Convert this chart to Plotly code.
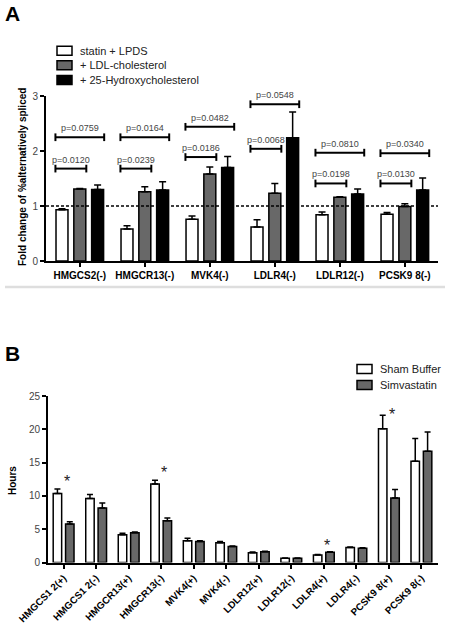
import plotly.graph_objects as go

# ---------------- Panel A data ----------------
genes_A = ["HMGCS2(-)", "HMGCR13(-)", "MVK4(-)", "LDLR4(-)", "LDLR12(-)", "PCSK9 8(-)"]
series_A_names = ["statin + LPDS", "+ LDL-cholesterol", "+ 25-Hydroxycholesterol"]
statin_lpds = [0.93, 0.58, 0.76, 0.62, 0.84, 0.85]
statin_lpds_err = [0.02, 0.06, 0.06, 0.13, 0.05, 0.03]
ldl_chol = [1.31, 1.26, 1.58, 1.23, 1.16, 0.99]
ldl_chol_err = [0.01, 0.09, 0.13, 0.18, 0.01, 0.05]
hydroxy = [1.30, 1.29, 1.70, 2.24, 1.22, 1.29]
hydroxy_err = [0.08, 0.15, 0.20, 0.47, 0.09, 0.22]
p_lower = ["p=0.0120", "p=0.0239", "p=0.0186", "p=0.0068", "p=0.0198", "p=0.0130"]
p_lower_y = [1.68, 1.68, 1.89, 2.04, 1.41, 1.41]
p_upper = ["p=0.0759", "p=0.0164", "p=0.0482", "p=0.0548", "p=0.0810", "p=0.0340"]
p_upper_y = [2.25, 2.25, 2.44, 2.85, 1.97, 1.96]
ticks_A = [0, 1, 2, 3]

# ---------------- Panel B data ----------------
exons_B = ["HMGCS1 2(+)", "HMGCS1 2(-)", "HMGCR13(+)", "HMGCR13(-)", "MVK4(+)", "MVK4(-)",
           "LDLR12(+)", "LDLR12(-)", "LDLR4(+)", "LDLR4(-)", "PCSK9 8(+)", "PCSK9 8(-)"]
series_B_names = ["Sham Buffer", "Simvastatin"]
sham = [10.35, 9.6, 4.15, 11.8, 3.25, 2.95, 1.48, 0.63, 1.13, 2.24, 20.1, 15.2]
sham_err = [0.7, 0.6, 0.25, 0.55, 0.4, 0.2, 0.08, 0.05, 0.08, 0.1, 2.0, 3.4]
simva = [5.77, 8.2, 4.45, 6.27, 3.15, 2.39, 1.63, 0.65, 1.54, 2.14, 9.7, 16.7]
simva_err = [0.35, 0.75, 0.12, 0.4, 0.1, 0.1, 0.07, 0.04, 0.07, 0.07, 1.25, 2.9]
star_idx = [0, 3, 8, 10]
star_y = [12.6, 14.0, 3.0, 22.7]
ticks_B = [0, 5, 10, 15, 20, 25]

FONT = "Liberation Sans, Arial, sans-serif"
W, H = 450, 627
GRAY = "#686868"


def px(x):
    return x / W


def py(y):
    return 1 - y / H


fig = go.Figure()

# Panel A bars
colors_A = ["white", GRAY, "black"]
vals_A = [statin_lpds, ldl_chol, hydroxy]
errs_A = [statin_lpds_err, ldl_chol_err, hydroxy_err]
offs_A = [-0.366, -0.092, 0.182]
for name, c, v, e, o in zip(series_A_names, colors_A, vals_A, errs_A, offs_A):
    fig.add_trace(go.Bar(
        x=genes_A, y=v, name=name, xaxis="x", yaxis="y",
        offset=o, width=0.184,
        marker=dict(color=c, line=dict(color="black", width=1.5)),
        error_y=dict(type="data", array=e, arrayminus=[0] * len(e), symmetric=False,
                     color="black", thickness=1.5, width=3.5),
        showlegend=False,
    ))

# Panel B bars
colors_B = ["white", GRAY]
vals_B = [sham, simva]
errs_B = [sham_err, simva_err]
offs_B = [-0.32, 0.06]
for name, c, v, e, o in zip(series_B_names, colors_B, vals_B, errs_B, offs_B):
    fig.add_trace(go.Bar(
        x=exons_B, y=v, name=name, xaxis="x2", yaxis="y2",
        offset=o, width=0.26,
        marker=dict(color=c, line=dict(color="black", width=1.5)),
        error_y=dict(type="data", array=e, arrayminus=[0] * len(e), symmetric=False,
                     color="black", thickness=1.5, width=3),
        showlegend=False,
    ))

shapes = []
annotations = []

# dotted reference line at 1
shapes.append(dict(type="line", xref="x domain", yref="y", x0=0, x1=1, y0=1, y1=1,
                   line=dict(color="black", width=1.3, dash="3px,2px")))

# significance brackets in panel A
cap = 0.07
for i in range(len(genes_A)):
    for (x0, x1), yv, txt in [((-0.375, 0.1), p_lower_y[i], p_lower[i]),
                              ((-0.375, 0.375), p_upper_y[i], p_upper[i])]:
        a, b = i + x0, i + x1
        shapes.append(dict(type="line", xref="x", yref="y", x0=a, x1=b, y0=yv, y1=yv,
                           line=dict(color="black", width=2)))
        for xx in (a, b):
            shapes.append(dict(type="line", xref="x", yref="y", x0=xx, x1=xx,
                               y0=yv - cap, y1=yv + cap, line=dict(color="black", width=2)))
        annotations.append(dict(xref="x", yref="y", x=(a + b) / 2, y=yv, text=txt,
                                showarrow=False, yanchor="middle", yshift=9,
                                font=dict(family=FONT, size=9, color="#444")))

# stars in panel B
for i, yv in zip(star_idx, star_y):
    annotations.append(dict(xref="x2", yref="y2", x=i + 0.1, y=yv, text="*",
                            showarrow=False, yanchor="middle", yshift=-3,
                            font=dict(family=FONT, size=16, color="#222")))

# Legend A
leg_A_y = [50.7, 65.2, 80]
for name, c, yc in zip(series_A_names, colors_A, leg_A_y):
    shapes.append(dict(type="rect", xref="paper", yref="paper", x0=px(57), x1=px(72),
                       y0=py(yc + 4.5), y1=py(yc - 4.5), fillcolor=c,
                       line=dict(color="black", width=1.5)))
    annotations.append(dict(xref="paper", yref="paper", x=px(78), y=py(yc), text=name,
                            showarrow=False, xanchor="left", yanchor="middle",
                            font=dict(family=FONT, size=11, color="#222")))

# Legend B
leg_B_y = [369, 385]
for name, c, yc in zip(series_B_names, colors_B, leg_B_y):
    shapes.append(dict(type="rect", xref="paper", yref="paper", x0=px(357), x1=px(372),
                       y0=py(yc + 4.5), y1=py(yc - 4.5), fillcolor=c,
                       line=dict(color="black", width=1.5)))
    annotations.append(dict(xref="paper", yref="paper", x=px(378), y=py(yc), text=name,
                            showarrow=False, xanchor="left", yanchor="middle",
                            font=dict(family=FONT, size=11, color="#222")))

# separator line
shapes.append(dict(type="line", xref="paper", yref="paper", x0=px(5), x1=px(445),
                   y0=py(287), y1=py(287), line=dict(color="#dedede", width=2.5)))

# Panel letters and axis titles
annotations.append(dict(xref="paper", yref="paper", x=px(3), y=py(14), text="A",
                        showarrow=False, xanchor="left", yanchor="middle",
                        font=dict(family=FONT, size=21, color="black", weight="bold")))
annotations.append(dict(xref="paper", yref="paper", x=px(3), y=py(353), text="B",
                        showarrow=False, xanchor="left", yanchor="middle",
                        font=dict(family=FONT, size=21, color="black", weight="bold")))
annotations.append(dict(xref="paper", yref="paper", x=px(22), y=py(177),
                        text="Fold change of %alternatively spliced", textangle=-90,
                        showarrow=False, xanchor="center", yanchor="middle",
                        font=dict(family=FONT, size=10, color="black", weight="bold")))
annotations.append(dict(xref="paper", yref="paper", x=px(12), y=py(481),
                        text="Hours", textangle=-90,
                        showarrow=False, xanchor="center", yanchor="middle",
                        font=dict(family=FONT, size=10, color="black", weight="bold")))

axis_common = dict(showline=True, linecolor="black", linewidth=2, ticks="outside",
                   ticklen=4, tickwidth=1.5, tickcolor="black", showgrid=False,
                   zeroline=False, fixedrange=True, automargin=False)

fig.update_layout(
    width=W, height=H,
    autosize=False,
    margin=dict(l=0, r=0, t=0, b=0, pad=0),
    paper_bgcolor="white", plot_bgcolor="white",
    barmode="group",
    showlegend=False,
    hovermode=False,
    xaxis=dict(domain=[px(46), px(438)], anchor="y", type="category",
               range=[-0.52, 5.51],
               tickfont=dict(family=FONT, size=10, color="black", weight="bold"),
               **axis_common),
    yaxis=dict(domain=[py(261), py(96)], anchor="x", range=[0, 3],
               tickvals=ticks_A,
               tickfont=dict(family=FONT, size=10, color="#444"),
               **axis_common),
    xaxis2=dict(domain=[px(48), px(438)], anchor="y2", type="category",
                range=[-0.48, 11.51], tickangle=-45,
                tickfont=dict(family=FONT, size=9.8, color="black", weight="bold"),
                **axis_common),
    yaxis2=dict(domain=[py(562.5), py(396)], anchor="x2", range=[0, 25],
                tickvals=ticks_B,
                tickfont=dict(family=FONT, size=10, color="#444"),
                **axis_common),
    shapes=shapes,
    annotations=annotations,
)

fig.write_html(
    "out.html",
    config={"displayModeBar": False},
    post_script=("document.body.style.margin='0';document.body.style.padding='0';"
                 "document.documentElement.style.overflow='hidden';"
                 "document.body.style.overflow='hidden';"),
)
